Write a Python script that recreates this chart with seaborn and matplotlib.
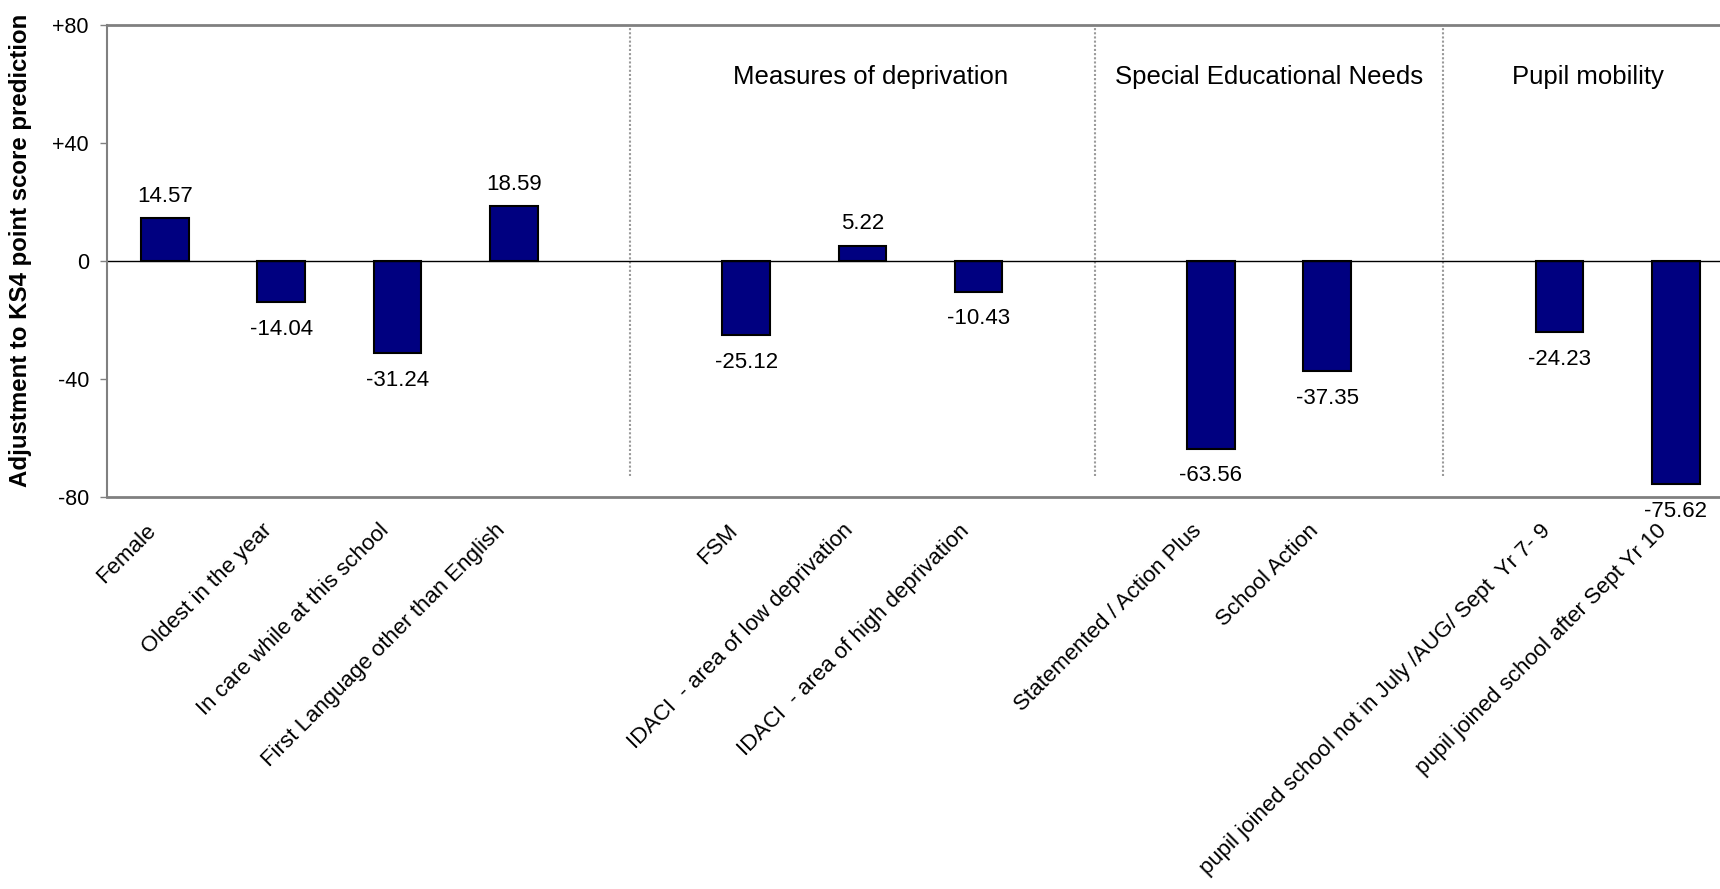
import matplotlib
matplotlib.use("Agg")
import matplotlib.pyplot as plt
from matplotlib.transforms import ScaledTranslation
import seaborn as sns
import pandas as pd

# Pupil characteristics and their adjustment to the KS4 point score prediction
factors = [
    "Female",
    "Oldest in the year",
    "In care while at this school",
    "First Language other than English",
    "FSM",
    "IDACI  - area of low deprivation",
    "IDACI  - area of high deprivation",
    "Statemented / Action Plus",
    "School Action",
    "pupil joined school not in July /AUG/ Sept  Yr 7- 9",
    "pupil joined school after Sept Yr 10",
]
adjustment = [14.57, -14.04, -31.24, 18.59, -25.12, 5.22, -10.43,
              -63.56, -37.35, -24.23, -75.62]
group_titles = ["Measures of deprivation", "Special Educational Needs", "Pupil mobility"]
y_ticks = [-80, -40, 0, 40, 80]
y_tick_labels = ["-80", "-40", "0", "+40", "+80"]

# empty slots separate the groups of factors
spacers = [" ", "  ", "   "]
order = factors[:4] + [spacers[0]] + factors[4:7] + [spacers[1]] + factors[7:9] + [spacers[2]] + factors[9:]

df = pd.DataFrame({"factor": factors, "adjustment": adjustment})

sns.set_style("white")
plt.rcParams["font.family"] = ["Liberation Sans", "DejaVu Sans"]
plt.rcParams["text.color"] = "black"
plt.rcParams["axes.labelcolor"] = "black"
plt.rcParams["xtick.color"] = "black"
plt.rcParams["ytick.color"] = "black"

fig = plt.figure(figsize=(17.2, 8.89), dpi=100)
ax = fig.add_axes([107 / 1720, 1 - 497 / 889, 1 - 107 / 1720, (497 - 25) / 889])

sns.barplot(data=df, x="factor", y="adjustment", order=order, color="#000080",
            saturation=1, width=0.41, edgecolor="black", linewidth=1.5,
            errorbar=None, ax=ax)

bars = ax.containers[0]
ax.bar_label(bars, labels=[f"{v:.2f}" if v >= 0 else "" for v in adjustment],
             padding=8, fontsize=16, color="black")
ax.bar_label(bars, labels=[f"{v:.2f}" if v < 0 else "" for v in adjustment],
             padding=12, fontsize=16, color="black")

ax.set_xlim(-0.5, 13.38)
ax.set_ylim(-80, 80)
ax.axhline(0, color="black", lw=1, zorder=1)

# dotted separators between the groups
sep_pos = [order.index(s) for s in spacers]
ax.vlines(sep_pos, -73, 80, colors="#9a9a9a", linestyles=(0, (1, 1)), lw=1.5, zorder=0)

for title, xpos in zip(group_titles, [6.07, 9.5, 12.24]):
    ax.text(xpos, 62.4, title, ha="center", va="center", fontsize=18.5, color="black")

ax.set_yticks(y_ticks)
ax.set_yticklabels(y_tick_labels, fontsize=15.5)
ax.tick_params(axis="y", direction="out", length=5, width=1, color="#808080",
               labelcolor="black", pad=8, left=True)
ax.tick_params(axis="x", length=0, pad=22, labelcolor="black")
ax.set_xticks(range(len(order)))
ax.set_xticklabels(order, rotation=45, ha="right", va="center", rotation_mode="anchor", fontsize=16)
shift = ScaledTranslation(-12 / 100, 0, fig.dpi_scale_trans)
for lbl in ax.get_xticklabels():
    lbl.set_transform(lbl.get_transform() + shift)

ax.set_xlabel("")
ax.set_ylabel("Adjustment to KS4 point score prediction", fontsize=17.3, fontweight="bold")
ax.yaxis.set_label_coords(-0.0465, 0.523)

for side in ["top", "bottom"]:
    ax.spines[side].set_color("#808080")
    ax.spines[side].set_linewidth(2)
ax.spines["left"].set_color("#808080")
ax.spines["left"].set_linewidth(1.5)
ax.spines["right"].set_visible(False)

fig.savefig("out.png", dpi=100, facecolor="white")
